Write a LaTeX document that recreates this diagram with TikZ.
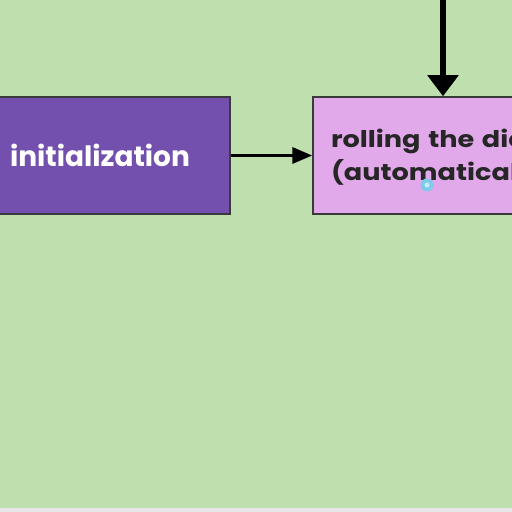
\documentclass[tikz,border=0pt]{standalone}
\usepackage{fontspec}
\setmainfont{Poppins}
\newfontfamily\widepop[FakeStretch=1.18]{Poppins}
\usetikzlibrary{arrows.meta}
\definecolor{bggreen}{HTML}{BFDFAF}
\definecolor{initpurple}{HTML}{7350AE}
\definecolor{rollpink}{HTML}{E1A8EA}
\definecolor{boxedge}{HTML}{3A3A3A}
\definecolor{stripgray}{HTML}{E5E5E5}
\definecolor{dotblue}{HTML}{7FC9EA}
\tikzset{
  stepbox/.style={draw=boxedge, line width=1.5pt, minimum width=260pt, minimum height=117pt, inner sep=0pt},
  flowarrow/.style={draw=black, line width=3.5pt, -{Triangle[length=20pt,width=16pt]}},
  bigarrow/.style={draw=black, line width=6pt, -{Triangle[length=21pt,width=30pt]}},
}
\begin{document}
\begin{tikzpicture}[x=1pt,y=1pt]
\useasboundingbox (0,0) rectangle (512,512);
\clip (0,0) rectangle (512,512);
\fill[bggreen] (0,0) rectangle (512,512);
\fill[stripgray] (0,0) rectangle (512,4);
\node[stepbox, fill=initpurple, text=white, font=\bfseries\fontsize{28}{30}\selectfont] (init) at (100,356.5) {\rule{0pt}{22pt}initialization};
\node[stepbox, fill=rollpink, text=black!85, align=left, text width=224pt, font=\widepop\bfseries\fontsize{23}{33}\selectfont] (roll) at (443,356.5) {\rule{0pt}{24pt}rolling the dice\\(automatically)};
\coordinate (topin) at (443,540);
\draw[flowarrow] (init.east) -- (roll.west);
\draw[bigarrow] (topin) -- (roll.north);
\fill[dotblue] (427,327) circle (6.5);
\fill[white!60!dotblue] (427,327) circle (2.5);
\end{tikzpicture}
\end{document}
